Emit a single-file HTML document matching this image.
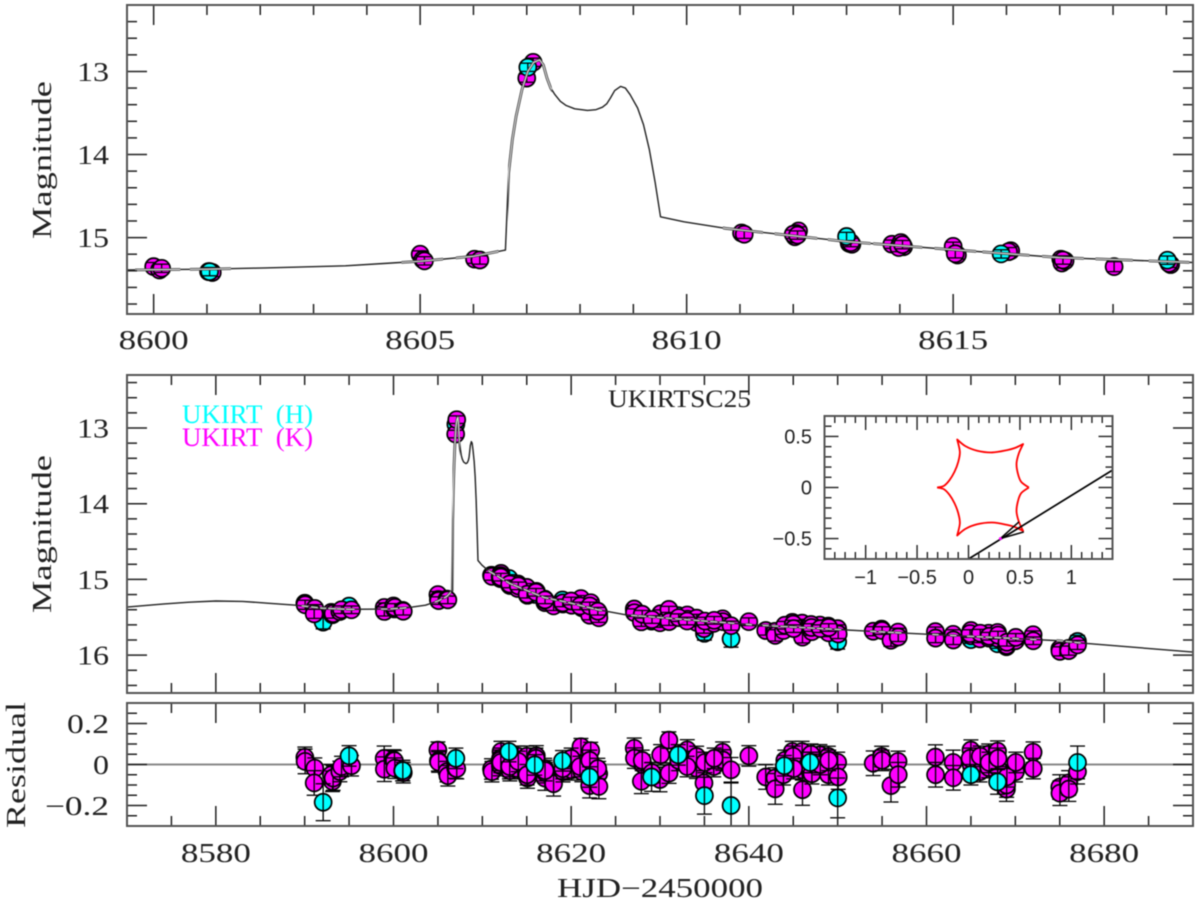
<!DOCTYPE html>
<html lang="en">
<head>
<meta charset="utf-8">
<title>UKIRTSC25 light curve</title>
<style>
html,body{margin:0;padding:0;background:#fff;width:1200px;height:903px;overflow:hidden}
svg{display:block;filter:blur(0.45px)}
</style>
</head>
<body>
<svg id="chart" xmlns="http://www.w3.org/2000/svg" width="1200" height="903" viewBox="0 0 1200 903">
<defs id="defs"></defs>
<rect x="0" y="0" width="1200" height="903" fill="#fff"></rect>
</svg>
<script>
// ---------- data ----------
const modelDay = [8570,8574,8577,8580,8583,8586,8589,8592,8595,8599.5,8601,8602.1,8603.6,8605,8606,8606.6,8606.66,8606.73,8606.8,8606.91,8607.02,8607.13,8607.24,8607.31,8607.38,8607.45,8607.53,8607.63,8607.74,8607.9,8608.14,8608.3,8608.42,8608.5,8608.57,8608.65,8608.76,8608.85,8608.94,8609.08,8609.19,8609.3,8609.41,8609.51,8609.95,8610.74,8613.03,8614.98,8616.98,8619.5,8623,8626.3,8640.5,8657.7,8675,8677.5,8690];
const modelMag = [15.365,15.325,15.30,15.285,15.29,15.315,15.34,15.38,15.395,15.39,15.38,15.365,15.34,15.285,15.225,15.15,14.22,13.82,13.54,13.22,13.0,12.89,12.86,12.92,13.08,13.2,13.28,13.36,13.41,13.45,13.47,13.46,13.43,13.39,13.32,13.23,13.18,13.2,13.28,13.44,13.64,13.94,14.34,14.75,14.81,14.89,15.05,15.145,15.24,15.30,15.40,15.47,15.60,15.71,15.81,15.84,15.96];

const kDay = [8590.02,8590.05,8591.14,8591.07,8593.0,8593.13,8593.2,8593.96,8594.15,8595.27,8598.95,8598.97,8600.0,8600.11,8600.15,8601.03,8601.1,8605.0,8605.05,8605.08,8606.02,8606.12,8607.0,8607.12,8611.03,8611.08,8612.1,8612.03,8612.05,8613.05,8613.1,8613.85,8614.02,8614.07,8613.98,8615.0,8615.08,8616.08,8617.02,8617.04,8617.1,8618.02,8619.08,8620.1,8620.05,8621.1,8622.2,8621.2,8622.08,8623.1,8623.12,8627.1,8627.12,8628.1,8627.9,8630.07,8630.0,8631.0,8631.02,8633.07,8633.1,8634.1,8634.12,8634.95,8636.0,8636.05,8637.05,8637.07,8638.0,8640.0,8641.9,8642.95,8642.97,8643.9,8644.9,8646.0,8646.02,8646.04,8647.1,8648.0,8648.95,8648.97,8650.0,8650.06,8654.0,8654.95,8655.0,8656.0,8656.8,8656.82,8661,8661.02,8663,8663.02,8665,8665.02,8666,8666.02,8667,8667.02,8668,8668.02,8669,8669.02,8670,8670.02,8672,8672.02,8675,8675.02,8676,8676.02,8677,8612.0,8612.08,8613.08,8614.05,8615.04,8616.04,8617.06,8619.05,8620.0,8621.0,8622.1,8623.0,8628.0,8629.1,8632.1,8633.05,8635.05,8636.1,8644.05,8645.0,8645.05,8647.0,8647.05,8648.05,8649.0,8664.9,8666.05,8667.05,8668.05,8669.05,8670.05];
const kMag = [15.315,15.335,15.383,15.455,15.435,15.467,15.451,15.424,15.40,15.401,15.37,15.423,15.35,15.39,15.37,15.41,15.42,15.20,15.265,15.28,15.26,15.27,13.08,12.89,14.945,14.96,14.92,14.99,14.95,15.07,15.08,15.08,15.06,15.11,15.12,15.105,15.21,15.158,15.26,15.306,15.28,15.35,15.325,15.309,15.341,15.253,15.307,15.374,15.473,15.445,15.507,15.391,15.439,15.482,15.56,15.453,15.573,15.396,15.557,15.469,15.525,15.568,15.511,15.65,15.564,15.58,15.52,15.558,15.611,15.558,15.675,15.686,15.739,15.675,15.567,15.577,15.666,15.763,15.69,15.603,15.616,15.705,15.65,15.721,15.684,15.656,15.675,15.803,15.695,15.76,15.689,15.775,15.725,15.80,15.675,15.745,15.73,15.785,15.71,15.775,15.70,15.78,15.89,15.87,15.79,15.81,15.73,15.81,15.92,15.95,15.91,15.94,15.865,14.96,14.97,15.06,15.085,15.195,15.17,15.27,15.31,15.285,15.35,15.35,15.42,15.46,15.53,15.505,15.55,15.55,15.54,15.605,15.59,15.65,15.595,15.635,15.65,15.635,15.715,15.71,15.75,15.735,15.83,15.765];
const kRes = [0.035,0.015,-0.018,-0.09,-0.05,-0.082,-0.066,-0.034,-0.01,-0.006,0.03,-0.023,0.022,0.018,-0.018,-0.03,-0.04,0.07,0.018,0.012,-0.035,-0.055,-0.018,-0.02,-0.022,-0.035,0.063,-0.005,0.03,-0.02,-0.03,0.015,0.04,-0.01,-0.02,0.04,-0.066,0.042,-0.02,-0.066,-0.04,-0.094,-0.035,0.006,-0.026,0.087,0.068,-0.034,-0.103,-0.045,-0.107,0.079,0.031,-0.002,-0.082,0.047,-0.073,0.119,-0.042,0.071,0.015,-0.018,0.039,-0.09,0.006,-0.01,0.06,0.022,-0.026,0.042,-0.061,-0.066,-0.119,-0.05,0.063,0.063,-0.026,-0.123,-0.045,0.047,0.039,-0.05,0.01,-0.061,0.006,0.039,0.02,-0.103,0.015,-0.05,0.036,-0.05,0.01,-0.065,0.07,0,0.02,-0.035,0.05,-0.015,0.065,-0.015,-0.12,-0.1,-0.015,-0.035,0.06,-0.02,-0.11,-0.14,-0.09,-0.12,-0.035,0.02,0.01,-0.01,0.015,-0.05,0.03,-0.03,-0.02,0.03,-0.01,0.02,-0.02,0.02,-0.04,0.02,-0.01,0.01,0.03,0.02,0.04,-0.02,0.05,0.01,0,0.02,0.03,0.04,0.01,0.03,-0.06,0.01];
const kErr = [0.05,0.06,0.05,0.06,0.05,0.05,0.06,0.05,0.05,0.05,0.06,0.06,0.05,0.05,0.05,0.05,0.05,0.04,0.05,0.05,0.05,0.05,0.05,0.05,0.05,0.05,0.05,0.05,0.05,0.05,0.05,0.05,0.05,0.05,0.05,0.05,0.05,0.05,0.05,0.06,0.05,0.06,0.05,0.05,0.05,0.04,0.04,0.05,0.06,0.06,0.06,0.05,0.05,0.05,0.06,0.05,0.06,0.04,0.05,0.05,0.05,0.05,0.05,0.06,0.05,0.05,0.05,0.05,0.06,0.05,0.06,0.05,0.075,0.05,0.05,0.05,0.05,0.076,0.05,0.05,0.05,0.05,0.05,0.06,0.06,0.05,0.05,0.08,0.05,0.06,0.06,0.06,0.06,0.06,0.05,0.05,0.05,0.05,0.05,0.05,0.05,0.05,0.06,0.06,0.05,0.05,0.05,0.05,0.06,0.06,0.06,0.06,0.06,0.05,0.05,0.05,0.05,0.05,0.05,0.05,0.05,0.05,0.05,0.05,0.05,0.05,0.05,0.05,0.05,0.05,0.05,0.05,0.05,0.05,0.05,0.05,0.05,0.05,0.05,0.05,0.05,0.05,0.05,0.05];

const hDay = [8592.08,8595.0,8601.05,8607.02,8613.0,8615.9,8619.02,8622.08,8629.05,8632.05,8635.0,8638.0,8644.0,8646.9,8650.0,8665.0,8668.0,8677.0];
const hMag = [15.564,15.353,15.41,12.95,14.987,15.197,15.272,15.431,15.551,15.478,15.712,15.785,15.631,15.635,15.823,15.795,15.85,15.82];
const hRes = [-0.184,0.042,-0.03,0.03,0.063,-0.002,0.018,-0.061,-0.061,0.047,-0.152,-0.2,-0.006,0.01,-0.163,-0.05,-0.085,0.01];
const hErr = [0.09,0.05,0.05,0.05,0.05,0.05,0.05,0.05,0.07,0.05,0.09,0.11,0.05,0.05,0.097,0.05,0.06,0.08];

const topXTicks = ["8600","8605","8610","8615"];
const topYTicks = ["13","14","15"];
const midYTicks = ["13","14","15","16"];
const resYTicks = ["0.2","0","−0.2"];
const resYValues = [0.2,0,-0.2];
const botXTicks = ["8580","8600","8620","8640","8660","8680"];
const insetXLabels = ["−1","−0.5","0","0.5","1"];
const insetXValues = [-1,-0.5,0,0.5,1];
const insetYLabels = ["0.5","0","−0.5"];
const insetYValues = [0.5,0,-0.5];

const causticUpperX = [-0.305,-0.24,-0.185,-0.136,-0.10,-0.084,-0.11,-0.03,0.084,0.23,0.376,0.457,0.531,0.489,0.467,0.48,0.512,0.587];
const causticUpperY = [0,0.016,0.072,0.154,0.25,0.35,0.47,0.405,0.36,0.343,0.366,0.389,0.425,0.333,0.235,0.137,0.056,0];
const trajectoryX = [0,1.4];
const trajectoryY = [-0.7,0.17];
const sourceX = [0.31];
const sourceY = [-0.5];
const wedgeX = [0.49,0.31,0.538];
const wedgeY = [-0.337,-0.5,-0.435];

// ---------- helpers ----------
const NS = 'http://www.w3.org/2000/svg';
const svg = document.getElementById('chart');
const defs = document.getElementById('defs');
function mk(tag, attrs, parent, name) {
  const el = document.createElementNS(NS, tag);
  for (const k in attrs) el.setAttribute(k, attrs[k]);
  
  
  (parent || svg).appendChild(el);
  return el;
}
function text(str, x, y, size, anchor, fill, family, len, parent, name, rotate) {
  const a = {x: x, y: y, 'font-size': size, 'text-anchor': anchor, fill: fill, 'font-family': family};
  if (len) { a.textLength = len; a.lengthAdjust = 'spacingAndGlyphs'; }
  if (rotate) a.transform = 'rotate(-90 ' + x + ' ' + y + ')';
  const el = mk('text', a, parent, name);
  el.textContent = str;
  return el;
}
const SERIF = '"Liberation Serif", serif';
const SANS = '"Liberation Sans", sans-serif';
const LEFT = 127, RIGHT = 1193;

function makePanel(id, top, bottom, xMin, xMax, yAtTop, yAtBottom) {
  const p = {
    id: id, top: top, bottom: bottom,
    x: d => LEFT + (d - xMin) / (xMax - xMin) * (RIGHT - LEFT),
    y: v => top + (v - yAtTop) / (yAtBottom - yAtTop) * (bottom - top)
  };
  const cp = mk('clipPath', {id: 'clip-' + id}, defs, id + '-clip');
  mk('rect', {x: LEFT, y: top, width: RIGHT - LEFT, height: bottom - top}, cp, id + '-clip-rect');
  p.g = mk('g', {'clip-path': 'url(#clip-' + id + ')'}, svg, id + '-plot-area');
  return p;
}
function frameAndTicks(p, xStart, xEnd, xStep, xMajorEvery, yStart, yEnd, yStep, yMajorEvery) {
  const g = mk('g', {stroke: '#222', 'stroke-width': 1.5, fill: 'none'}, svg, p.id + '-ticks');
  const nx = Math.round((xEnd - xStart) / xStep);
  for (let i = 0; i <= nx; i++) {
    const v = xStart + i * xStep;
    const major = Math.abs(v / xMajorEvery - Math.round(v / xMajorEvery)) < 1e-6;
    const len = major ? 20 : 10, x = p.x(v);
    mk('line', {x1: x, x2: x, y1: p.top, y2: p.top + len}, g, p.id + '-x-tick-top');
    mk('line', {x1: x, x2: x, y1: p.bottom, y2: p.bottom - len}, g, p.id + '-x-tick-bottom');
  }
  const ny = Math.round((yEnd - yStart) / yStep);
  for (let i = 0; i <= ny; i++) {
    const v = yStart + i * yStep;
    const major = Math.abs(v / yMajorEvery - Math.round(v / yMajorEvery)) < 1e-6;
    const len = major ? 20 : 10, y = p.y(v);
    mk('line', {y1: y, y2: y, x1: LEFT, x2: LEFT + len}, g, p.id + '-y-tick-left');
    mk('line', {y1: y, y2: y, x1: RIGHT, x2: RIGHT - len}, g, p.id + '-y-tick-right');
  }
  mk('rect', {x: LEFT, y: p.top, width: RIGHT - LEFT, height: p.bottom - p.top, fill: 'none', stroke: '#555', 'stroke-width': 2}, svg, p.id + '-frame');
}
function drawSeries(p, g, days, vals, errs, fill, name) {
  const group = mk('g', {}, g, name + '-series');
  const r = 8.5;
  days.forEach((d, i) => {
    const x = p.x(d), y = p.y(vals[i]);
    mk('circle', {cx: x, cy: y, r: r, fill: fill, stroke: '#000', 'stroke-width': 1.7}, group, name + '-point');
    const y1 = p.y(vals[i] + errs[i]), y2 = p.y(vals[i] - errs[i]);
    mk('line', {x1: x, x2: x, y1: y1, y2: y2, stroke: '#000', 'stroke-width': 1.3}, group, name + '-error-bar');
    mk('line', {x1: x - 7.5, x2: x + 7.5, y1: y1, y2: y1, stroke: '#000', 'stroke-width': 1.3}, group, name + '-error-cap');
    mk('line', {x1: x - 7.5, x2: x + 7.5, y1: y2, y2: y2, stroke: '#000', 'stroke-width': 1.3}, group, name + '-error-cap');
  });
}
function drawModel(p) {
  let d = '';
  modelDay.forEach((t, i) => { d += (i ? 'L' : 'M') + p.x(t).toFixed(2) + ' ' + p.y(modelMag[i]).toFixed(2); });
  const cp = mk('clipPath', {id: 'band-' + p.id}, defs, p.id + '-model-band-clip');
  kDay.concat(hDay).forEach(t => {
    const half = 0.35 * Math.abs(p.x(1) - p.x(0));
    const w = Math.max(half, 3);
    mk('rect', {x: p.x(t) - w, y: p.top, width: 2 * w, height: p.bottom - p.top}, cp, p.id + '-model-band');
  });
  mk('path', {d: d, fill: 'none', stroke: '#222', 'stroke-width': 1.4, 'stroke-linejoin': 'round'}, p.g, p.id + '-model-curve');
  mk('path', {d: d, fill: 'none', stroke: '#444', 'stroke-width': 2.8, 'stroke-linejoin': 'round', 'clip-path': 'url(#band-' + p.id + ')'}, p.g, p.id + '-model-curve-edge');
  mk('path', {d: d, fill: 'none', stroke: '#ddd', 'stroke-width': 1.1, 'stroke-linejoin': 'round', 'clip-path': 'url(#band-' + p.id + ')'}, p.g, p.id + '-model-curve-highlight');
}
function smoothRun(pts) {
  let d = '';
  for (let i = 0; i < pts.length - 1; i++) {
    const p0 = pts[Math.max(i - 1, 0)], p1 = pts[i], p2 = pts[i + 1], p3 = pts[Math.min(i + 2, pts.length - 1)];
    const c1x = p1[0] + (p2[0] - p0[0]) / 6, c1y = p1[1] + (p2[1] - p0[1]) / 6;
    const c2x = p2[0] - (p3[0] - p1[0]) / 6, c2y = p2[1] - (p3[1] - p1[1]) / 6;
    d += 'C' + c1x.toFixed(2) + ' ' + c1y.toFixed(2) + ' ' + c2x.toFixed(2) + ' ' + c2y.toFixed(2) + ' ' + p2[0].toFixed(2) + ' ' + p2[1].toFixed(2);
  }
  return d;
}

// ---------- top panel ----------
const topP = makePanel('top-panel', 5, 314, 8599.5, 8619.5, 12.2, 15.92);
drawSeries(topP, topP.g, kDay, kMag, kErr, '#ff00ff', 'k-band');
drawSeries(topP, topP.g, hDay, hMag, hErr, '#00ffff', 'h-band');
drawModel(topP);
frameAndTicks(topP, 8600, 8619, 1, 5, 12.4, 15.8, 0.2, 1);
topXTicks.forEach(s => text(s, topP.x(+s), 349, 27, 'middle', '#222', SERIF, 70, svg, 'top-x-tick-label'));
topYTicks.forEach(s => text(s, 109, topP.y(+s) + 9.5, 27, 'end', '#222', SERIF, 32, svg, 'top-y-tick-label'));
text('Magnitude', 51, 160, 27, 'middle', '#222', SERIF, 158, svg, 'top-y-axis-title', true);

// ---------- middle panel ----------
const midP = makePanel('middle-panel', 375, 693, 8570, 8690, 12.3, 16.5);
drawSeries(midP, midP.g, hDay, hMag, hErr, '#00ffff', 'h-band');
drawSeries(midP, midP.g, kDay, kMag, kErr, '#ff00ff', 'k-band');
drawModel(midP);
frameAndTicks(midP, 8575, 8685, 5, 20, 12.4, 16.4, 0.2, 1);
midYTicks.forEach(s => text(s, 109, midP.y(+s) + 9.5, 27, 'end', '#222', SERIF, 32, svg, 'middle-y-tick-label'));
text('Magnitude', 51, 534, 27, 'middle', '#222', SERIF, 158, svg, 'middle-y-axis-title', true);
text('UKIRT\u00a0\u00a0(H)', 182, 423, 26, 'start', '#00ffff', SERIF, 131, svg, 'legend-entry-h');
text('UKIRT\u00a0\u00a0(K)', 182, 446, 26, 'start', '#ff00ff', SERIF, 131, svg, 'legend-entry-k');
text('UKIRTSC25', 608, 407, 25, 'start', '#222', SERIF, 143, svg, 'event-name-label');

// ---------- residual panel ----------
const resP = makePanel('residual-panel', 703, 826, 8570, 8690, 0.3, -0.3);
mk('line', {x1: LEFT, x2: RIGHT, y1: resP.y(0), y2: resP.y(0), stroke: '#888', 'stroke-width': 2}, resP.g, 'zero-residual-line');
drawSeries(resP, resP.g, kDay, kRes, kErr, '#ff00ff', 'k-band-residual');
drawSeries(resP, resP.g, hDay, hRes, hErr, '#00ffff', 'h-band-residual');
frameAndTicks(resP, 8575, 8685, 5, 20, -0.25, 0.25, 0.05, 0.2);
botXTicks.forEach(s => text(s, resP.x(+s), 862, 27, 'middle', '#222', SERIF, 70, svg, 'x-tick-label'));
resYTicks.forEach((s, i) => text(s, 109, resP.y(resYValues[i]) + 9.5, 27, 'end', '#222', SERIF, i === 1 ? 16 : (i === 0 ? 42 : 64), svg, 'residual-y-tick-label'));
text('Residual', 25, 765, 27, 'middle', '#222', SERIF, 126, svg, 'residual-y-axis-title', true);
text('HJD−2450000', 660, 897, 27, 'middle', '#222', SERIF, 206, svg, 'x-axis-title');

// ---------- inset ----------
const insetL = 824.5, insetR = 1112.5, insetT = 416, insetB = 559;
const ix = v => insetL + (v + 1.4) / 2.8 * (insetR - insetL);
const iy = v => insetT + (0.7 - v) / 1.4 * (insetB - insetT);
const insetG = mk('g', {}, svg, 'caustic-inset');
mk('rect', {x: insetL, y: insetT, width: insetR - insetL, height: insetB - insetT, fill: '#fff'}, insetG, 'inset-background');
const icp = mk('clipPath', {id: 'clip-inset'}, defs, 'inset-clip');
mk('rect', {x: insetL, y: insetT, width: insetR - insetL, height: insetB - insetT}, icp, 'inset-clip-rect');
const inner = mk('g', {'clip-path': 'url(#clip-inset)'}, insetG, 'inset-plot-area');
const causticUpper = causticUpperX.map((v, i) => [ix(v), iy(causticUpperY[i])]);
const causticLower = causticUpperX.map((v, i) => [ix(v), iy(-causticUpperY[i])]);
const cuspBreaks = [0, 6, 12, 17];
let cd = '';
[causticUpper, causticLower].forEach(pts => {
  cd += 'M' + pts[0][0].toFixed(2) + ' ' + pts[0][1].toFixed(2);
  for (let b = 0; b < cuspBreaks.length - 1; b++) {
    cd += smoothRun(pts.slice(cuspBreaks[b], cuspBreaks[b + 1] + 1));
  }
});
mk('path', {d: cd, fill: 'none', stroke: '#ff0000', 'stroke-width': 1.8, 'stroke-linejoin': 'round'}, inner, 'planetary-caustic');
mk('line', {x1: ix(trajectoryX[0]), y1: iy(trajectoryY[0]), x2: ix(trajectoryX[1]), y2: iy(trajectoryY[1]), stroke: '#000', 'stroke-width': 1.7}, inner, 'source-trajectory');
let wd = '';
wedgeX.forEach((v, i) => { wd += (i ? 'L' : 'M') + ix(v).toFixed(2) + ' ' + iy(wedgeY[i]).toFixed(2); });
mk('path', {d: wd, fill: 'none', stroke: '#000', 'stroke-width': 1.5}, inner, 'trajectory-direction-arrow');
mk('circle', {cx: ix(sourceX[0]), cy: iy(sourceY[0]), r: 1.5, fill: '#ff00ff'}, inner, 'source-position');
const itg = mk('g', {stroke: '#222', 'stroke-width': 1.4}, insetG, 'inset-ticks');
for (let i = -14; i <= 14; i++) {
  const major = i % 5 === 0, len = major ? 14 : 7, x = ix(i / 10);
  mk('line', {x1: x, x2: x, y1: insetT, y2: insetT + len}, itg, 'inset-x-tick-top');
  mk('line', {x1: x, x2: x, y1: insetB, y2: insetB - len}, itg, 'inset-x-tick-bottom');
}
for (let i = -7; i <= 7; i++) {
  const major = i % 5 === 0, len = major ? 14 : 7, y = iy(i / 10);
  mk('line', {y1: y, y2: y, x1: insetL, x2: insetL + len}, itg, 'inset-y-tick-left');
  mk('line', {y1: y, y2: y, x1: insetR, x2: insetR - len}, itg, 'inset-y-tick-right');
}
mk('rect', {x: insetL, y: insetT, width: insetR - insetL, height: insetB - insetT, fill: 'none', stroke: '#555', 'stroke-width': 2}, insetG, 'inset-frame');
insetXLabels.forEach((s, i) => text(s, ix(insetXValues[i]), 584, 20, 'middle', '#222', SANS, 0, insetG, 'inset-x-tick-label'));
insetYLabels.forEach((s, i) => text(s, 812, iy(insetYValues[i]) + 7, 20, 'end', '#222', SANS, 0, insetG, 'inset-y-tick-label'));
</script>
</body>
</html>
